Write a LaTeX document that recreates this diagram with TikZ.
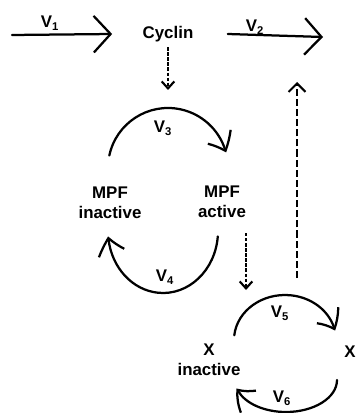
\documentclass[tikz,border=0pt]{standalone}
\usepackage{fontspec}
\setmainfont{Liberation Sans}
\usetikzlibrary{arrows.meta,bending}
\begin{document}
\begin{tikzpicture}[x=0.025cm, y=0.025cm, font=\fontsize{12}{14}\selectfont\bfseries, line width=1.6pt, line join=round, line cap=round, >={Straight Barb[length=11pt,width=19pt,bend]}]
	%Khung hình.
	\useasboundingbox (0,0) rectangle (357,-413);
	\tikzset{lab/.style={inner sep=1pt, align=center},
		big/.style={-{Straight Barb[length=12pt,width=26pt]}},
		dotline/.style={->, >={Straight Barb[length=5pt,width=9pt]}, line width=1.5pt, line cap=butt, dash pattern=on 2.4pt off 1.2pt},
		dashline/.style={->, >={Straight Barb[length=6pt,width=12pt]}, line width=1.5pt, line cap=butt, dash pattern=on 5pt off 2.2pt}}
	%Các chất.
	\node[lab] (cyclin) at (168,-34) {Cyclin};
	\node[lab] (mpfi) at (110,-203) {MPF\\inactive};
	\node[lab] (mpfa) at (222,-202) {MPF\\active};
	\node[lab] (xi) at (209,-360) {X\\inactive};
	\node[lab] (xa) at (350,-352) {X};
	%Tốc độ.
	\foreach \i/\x/\y in {1/50/-23, 2/255/-27, 3/163/-128, 4/165/-277, 5/280/-313, 6/282/-398}{
		\node[lab] (v\i) at (\x,\y) {V\textsubscript{\i}};
	}
	%Gán tọa độ.
	\coordinate (in) at (12,-35);
	\coordinate (out) at (323,-37);
	\coordinate (c3) at (168,-90);
	\coordinate (ma) at (246,-233);
	\coordinate (x5) at (246,-290);
	\coordinate (xb) at (297,-278);
	\coordinate (xt) at (297,-82);
	%Mũi tên thẳng.
	\draw[big] (in) -- ([xshift=-0.7cm]cyclin.west);
	\draw[big] ([xshift=0.8cm]cyclin.east) -- (out);
	\draw[dotline] ([yshift=-2pt]cyclin.south) -- (c3);
	\draw[dotline] (ma) -- (x5);
	\draw[dashline] (xb) -- (xt);
	%Các cung.
	\draw[->] (168,-168) ++(168:60) arc[start angle=168, end angle=15, radius=60];
	\draw[->] (163,-231) ++(-5:55 and 62) arc[start angle=-5, end angle=-175, x radius=55, y radius=62];
	\draw[->] (285,-340) ++(174:51 and 45) arc[start angle=174, end angle=12, x radius=51, y radius=45];
	\draw[->] (286,-380) ++(0:51 and 32) arc[start angle=0, end angle=-165, x radius=51, y radius=32];
\end{tikzpicture}
\end{document}
